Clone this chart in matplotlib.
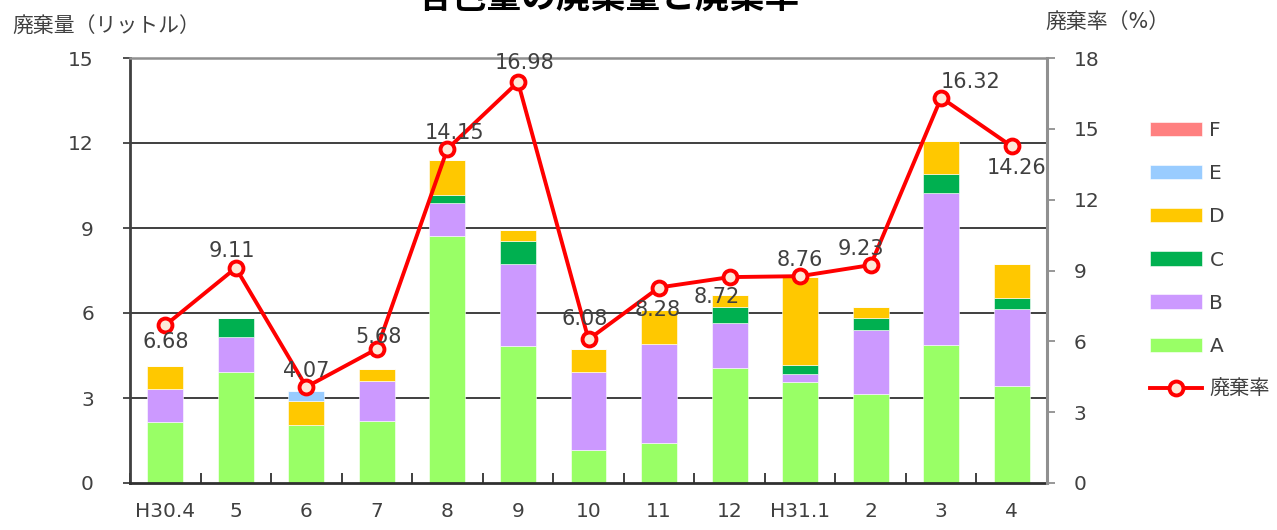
import matplotlib
matplotlib.use("Agg")
import matplotlib.pyplot as plt
import numpy as np
from matplotlib.patches import Patch
from matplotlib.lines import Line2D

plt.rcParams['font.family'] = ['DejaVu Sans', 'Noto Sans CJK JP']

categories = ["H30.4", "5", "6", "7", "8", "9", "10", "11", "12", "H31.1", "2", "3", "4"]
A = [2.15, 3.92, 2.05, 2.19, 8.72, 4.84, 1.16, 1.42, 4.05, 3.55, 3.14, 4.87, 3.42]
B = [1.17, 1.22, 0.00, 1.41, 1.17, 2.88, 2.76, 3.50, 1.59, 0.29, 2.27, 5.38, 2.71]
C = [0.00, 0.68, 0.00, 0.00, 0.28, 0.81, 0.00, 0.00, 0.58, 0.32, 0.40, 0.65, 0.41]
D = [0.82, 0.00, 0.84, 0.41, 1.23, 0.41, 0.81, 1.18, 0.42, 3.10, 0.41, 1.17, 1.18]
E = [0.00, 0.00, 0.35, 0.00, 0.00, 0.00, 0.00, 0.00, 0.00, 0.00, 0.00, 0.00, 0.00]
F = [0.00] * 13
rate = [6.68, 9.11, 4.07, 5.68, 14.15, 16.98, 6.08, 8.28, 8.72, 8.76, 9.23, 16.32, 14.26]

series_names = ["A", "B", "C", "D", "E", "F"]
series_vals = [A, B, C, D, E, F]
colors = ["#99FF66", "#CC99FF", "#00B050", "#FFC800", "#99CCFF", "#FF8080"]

# label offsets in pixels (dx, dy)
label_offsets = [(0, -17), (-4, 17), (0, 16), (2, 12), (7, 16), (7, 19), (-4, 20),
                 (-1, -22), (-13, -20), (0, 16), (-10, 16), (29, 16), (5, -22)]

W, H = 1277, 530
fig = plt.figure(figsize=(W / 100, H / 100), dpi=100)
ax = fig.add_axes([130 / W, (H - 483) / H, (1047 - 130) / W, (483 - 58) / H])
ax2 = ax.twinx()

x = np.arange(len(categories))
bottom = np.zeros(len(categories))
handles = []
for name, vals, col in zip(series_names, series_vals, colors):
    v = np.array(vals)
    ax.bar(x, v, 0.51, bottom=bottom, color=col, edgecolor='white', linewidth=0.4, zorder=2)
    bottom += v
    handles.append(Patch(facecolor=col, edgecolor='white', linewidth=0.4, label=name))

ax.set_xlim(-0.5, len(categories) - 0.5)
ax.set_ylim(0, 15)
ax.set_yticks([0, 3, 6, 9, 12, 15])
ax.set_xticks(x)
ax.set_xticklabels(categories)
ax.set_xticks(np.arange(-0.5, len(categories), 1.0), minor=True)
ax.tick_params(axis='x', which='major', length=0, pad=14, labelsize=14.5, labelcolor='#404040')
ax.tick_params(axis='x', which='minor', direction='in', length=7, width=1.3, color='#303030')
ax.tick_params(axis='y', length=5, width=1.3, color='#404040', pad=21, labelsize=14.5, labelcolor='#404040')
for yv in [3, 6, 9, 12]:
    ax.axhline(yv, color='#303030', lw=1.3, zorder=1)
ax.spines['bottom'].set_color('#303030')
ax.spines['bottom'].set_linewidth(2)
ax.spines['left'].set_color('#404040')
ax.spines['left'].set_linewidth(2)
ax.spines['top'].set_color('#909090')
ax.spines['top'].set_linewidth(1.8)
ax.spines['right'].set_visible(False)

ax2.set_ylim(0, 18)
ax2.set_yticks([0, 3, 6, 9, 12, 15, 18])
ax2.tick_params(axis='y', length=6, width=1.3, color='#909090', pad=13, labelsize=14.5, labelcolor='#404040')
for s in ['top', 'left', 'bottom']:
    ax2.spines[s].set_visible(False)
ax2.spines['right'].set_color('#909090')
ax2.spines['right'].set_linewidth(2.2)

ax2.plot(x, rate, color='#FF0000', lw=2.8, marker='o', markersize=10,
         markerfacecolor='#FDE9D9', markeredgecolor='#FF0000', markeredgewidth=2.8, zorder=5)
for xi, r, (dx, dy) in zip(x, rate, label_offsets):
    ax2.annotate(f"{r:.2f}", (xi, r), xytext=(dx * 0.72, dy * 0.72), textcoords='offset points',
                 ha='center', va='center', fontsize=15, color='#404040', zorder=6)

line_handle = Line2D([], [], color='#FF0000', lw=2.8, marker='o', markersize=10,
                     markerfacecolor='#FDE9D9', markeredgecolor='#FF0000', markeredgewidth=2.8,
                     label='廃棄率')
leg_handles = handles[::-1] + [line_handle]
leg = fig.legend(handles=leg_handles, loc='upper left', bbox_to_anchor=(1150 / W, 1 - 121 / H),
                 frameon=False, fontsize=14.5, handlelength=2.6, handleheight=0.72,
                 handletextpad=0.35, labelspacing=1.2, borderpad=0, borderaxespad=0)
for t in leg.get_texts():
    t.set_color('#404040')

fig.text(12 / W, 1 - 26 / H, "廃棄量（リットル）", fontsize=15, color='#404040', va='center', ha='left')
fig.text(1045 / W, 1 - 22 / H, "廃棄率（%）", fontsize=15, color='#404040', va='center', ha='left')
fig.text(608 / W, 1 - 8 / H, "各色量の廃棄量と廃棄率", fontsize=25, fontweight='bold',
         color='#000000', va='baseline', ha='center')

fig.savefig("out.png", dpi=100)
